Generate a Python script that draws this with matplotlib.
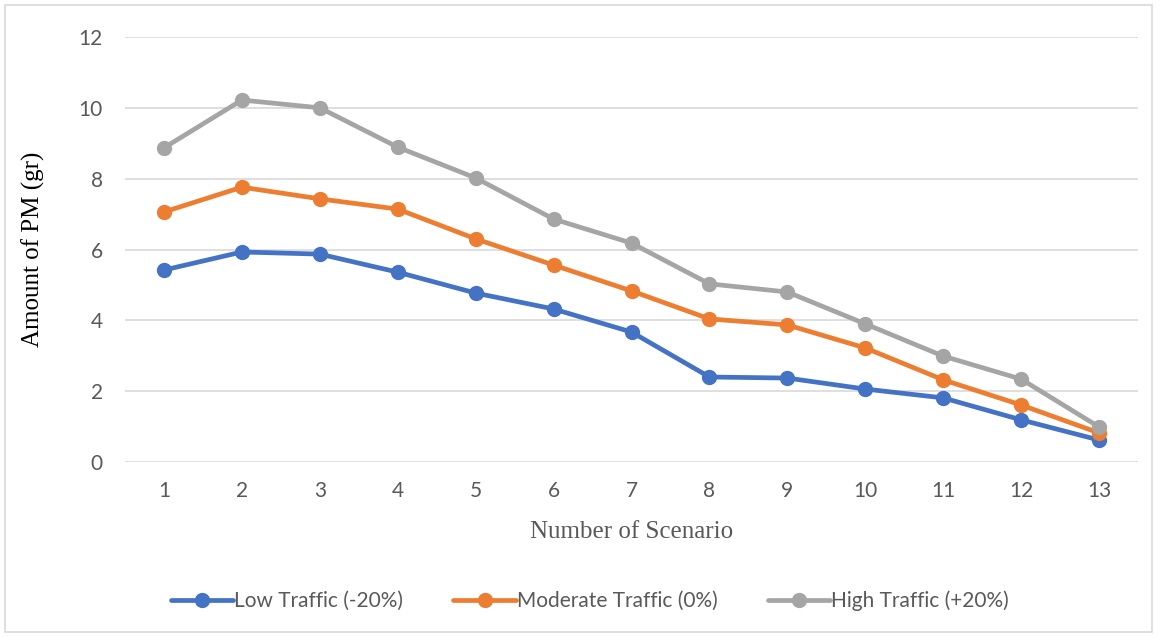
import numpy as np
import matplotlib.pyplot as plt
from matplotlib.patches import Rectangle

scenarios = list(range(1, 14))
low_traffic = [5.42, 5.93, 5.87, 5.36, 4.77, 4.32, 3.67, 2.40, 2.37, 2.06, 1.81, 1.19, 0.62]
moderate_traffic = [7.06, 7.76, 7.43, 7.14, 6.30, 5.56, 4.83, 4.04, 3.87, 3.22, 2.32, 1.61, 0.82]
high_traffic = [8.87, 10.22, 10.00, 8.89, 8.02, 6.86, 6.18, 5.03, 4.80, 3.90, 2.99, 2.34, 0.99]
labels = ["Low Traffic (-20%)", "Moderate Traffic (0%)", "High Traffic (+20%)"]
colors = ["#4472c4", "#ed7d31", "#a5a5a5"]

fig = plt.figure(figsize=(11.59, 6.37), dpi=100)
ax = fig.add_axes([125 / 1159, 1 - 462 / 637, (1138 - 125) / 1159, (462 - 37) / 637])

for series, lab, col in zip([low_traffic, moderate_traffic, high_traffic], labels, colors):
    ax.plot(scenarios, series, color=col, lw=3.4, marker='o', ms=10, label=lab,
            solid_capstyle='round')

ax.set_ylim(0, 12)
ax.set_xlim(0.5, 13.5)
ax.set_yticks(range(0, 13, 2))
ax.set_xticks(scenarios)
ax.grid(axis='y', color='#d9d9d9', lw=1.2)
ax.set_axisbelow(True)
for s in ax.spines.values():
    s.set_visible(False)
ax.tick_params(length=0, labelsize=15, labelcolor='#595959')
for t in ax.get_xticklabels() + ax.get_yticklabels():
    t.set_family('Lato')
ax.tick_params(axis='x', pad=14)
ax.tick_params(axis='y', pad=16)

ax.set_xlabel("Number of Scenario", family='Liberation Serif', fontsize=18, color='#595959', labelpad=14)
ax.set_ylabel("Amount of PM (gr)", family='Liberation Serif', fontsize=18, color='black', labelpad=24)

leg = fig.legend(loc='center', bbox_to_anchor=(590 / 1159, 1 - 601 / 637), ncol=3, frameon=False,
                 prop={'family': 'Lato', 'size': 15}, handlelength=3.0, columnspacing=2.4,
                 handletextpad=0.05)
for t in leg.get_texts():
    t.set_color('#595959')

fig.patches.append(Rectangle((5 / 1159, 5 / 637), 1147 / 1159, 627 / 637, transform=fig.transFigure,
                             fill=False, edgecolor='#d9d9d9', lw=1.2))

fig.savefig("out.png", dpi=100)
